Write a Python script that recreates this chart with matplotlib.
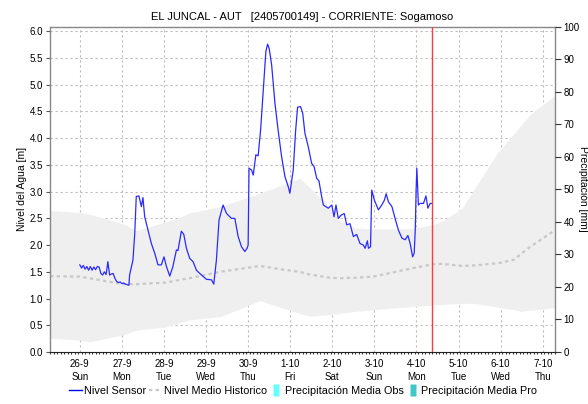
import matplotlib
matplotlib.use("Agg")
import matplotlib.pyplot as plt
import matplotlib.dates as mdates
from matplotlib.lines import Line2D
import numpy as np
import pandas as pd

plt.rcParams['font.family'] = ['Liberation Sans', 'DejaVu Sans']

# ---- data -------------------------------------------------------------
t0 = pd.Timestamp("2021-09-26 00:00")

# water level sensor: hours since 26-9 00:00, level in metres
sensor_hours = [0, 1, 2, 3, 4, 5, 6, 7, 8, 9, 10, 11, 12, 13, 14, 15, 16, 17, 18, 19,
                20, 21, 22, 23, 24, 25, 26, 27, 28, 28.4, 30.3, 31.3, 32.2, 33.7, 35.1,
                36, 37, 38.9, 40.8, 42.7, 44.6, 46.5, 48, 49.4, 51.3, 53.1, 55.1, 56,
                57.9, 59.3, 60.8, 62.7, 64.6, 66.5, 69.4, 72.2, 75.1, 76.4, 77.9, 79.4,
                81.7, 83.7, 86.5, 88.4, 90.3, 92.2, 94.1, 95.4, 96.0, 96.5, 98, 98.9,
                100.4, 101.7, 103.1, 104.6, 106.1, 107.1, 108, 109.4, 111.3, 113.1,
                115.1, 117, 118.9, 119.8, 121.7, 123.1, 124.2, 125.9, 127.1, 128.4,
                130.3, 132.2, 133.6, 135.1, 136.4, 137.9, 138.9, 141.7, 143.7, 145,
                146.1, 147.4, 149, 150.8, 152.2, 154.1, 156, 157.9, 159.8, 161.7,
                162.7, 164, 164.6, 165.8, 166.5, 168, 170.3, 172.2, 173.7, 174.7, 176,
                178, 179.8, 181.7, 183.7, 185.6, 187.1, 188.4, 189.8, 190.7, 191.3,
                191.8, 192.2, 193.1, 194.1, 196, 197.4, 198.5, 199.8, 200.8]
sensor_level = [1.63, 1.57, 1.62, 1.55, 1.60, 1.53, 1.60, 1.53, 1.59, 1.54, 1.60, 1.59,
                1.47, 1.44, 1.50, 1.45, 1.69, 1.44, 1.46, 1.47, 1.38, 1.32, 1.30, 1.31,
                1.28, 1.29, 1.27, 1.26, 1.25, 1.44, 1.72, 2.20, 2.91, 2.92, 2.72, 2.89,
                2.53, 2.28, 2.03, 1.85, 1.63, 1.63, 1.78, 1.60, 1.42, 1.60, 1.91, 1.90,
                2.26, 2.20, 1.94, 1.75, 1.69, 1.53, 1.44, 1.36, 1.35, 1.27, 1.72, 2.47,
                2.75, 2.59, 2.50, 2.50, 2.16, 1.97, 1.88, 1.94, 2.00, 3.44, 3.40, 3.31,
                3.69, 3.67, 4.15, 4.90, 5.62, 5.76, 5.68, 5.37, 4.65, 4.15, 3.65, 3.28,
                3.09, 2.97, 3.40, 4.15, 4.58, 4.59, 4.47, 4.09, 3.84, 3.53, 3.47, 3.25,
                3.20, 2.91, 2.75, 2.69, 2.75, 2.53, 2.75, 2.50, 2.56, 2.59, 2.38, 2.40,
                2.16, 2.20, 2.03, 2.00, 1.94, 2.08, 1.94, 1.97, 3.03, 2.84, 2.66, 2.75,
                2.84, 2.96, 2.81, 2.72, 2.50, 2.28, 2.13, 2.10, 2.18, 2.03, 1.78, 1.85,
                2.28, 3.03, 3.44, 2.75, 2.78, 2.78, 2.92, 2.69, 2.78, 2.78]

# historical statistics: hours since 26-9 00:00
hist_hours = [-17, 0, 5.6, 24.5, 32.4, 49.4, 57, 62.6, 80, 102.8, 114, 125.5, 131,
              142.6, 148, 157, 167.3, 190, 201, 206.2, 218, 225, 238.1, 241.5, 248,
              251, 257, 271]
hist_upper = [2.65, 2.61, 2.58, 2.40, 2.27, 2.44, 2.52, 2.60, 2.72, 2.97, 3.11, 3.25,
              3.08, 2.70, 2.47, 2.32, 2.30, 2.31, 2.38, 2.44, 2.69, 3.05, 3.72, 3.85,
              4.10, 4.22, 4.45, 4.80]
hist_lower = [0.26, 0.22, 0.19, 0.32, 0.41, 0.47, 0.55, 0.60, 0.66, 0.96, 0.84, 0.72,
              0.67, 0.70, 0.72, 0.76, 0.79, 0.85, 0.88, 0.89, 0.91, 0.91, 0.84, 0.82,
              0.79, 0.76, 0.78, 0.83]
hist_mean = [1.42, 1.41, 1.38, 1.27, 1.27, 1.30, 1.35, 1.38, 1.50, 1.61, 1.55, 1.50,
             1.45, 1.39, 1.38, 1.39, 1.41, 1.57, 1.64, 1.65, 1.61, 1.62, 1.66, 1.68,
             1.73, 1.82, 1.97, 2.28]

now_time = t0 + pd.Timedelta(hours=201)
day_labels = ["26-9\nSun", "27-9\nMon", "28-9\nTue", "29-9\nWed", "30-9\nThu",
              "1-10\nFri", "2-10\nSat", "3-10\nSun", "4-10\nMon", "5-10\nTue",
              "6-10\nWed", "7-10\nThu"]

# ---- figure -----------------------------------------------------------
fig = plt.figure(figsize=(5.88, 4.04), dpi=100)
ax = fig.add_axes([50 / 588, 52 / 404, 505 / 588, 325.3 / 404])

s_t = [t0 + pd.Timedelta(hours=h) for h in sensor_hours]
h_t = [t0 + pd.Timedelta(hours=h) for h in hist_hours]

ax.fill_between(h_t, hist_lower, hist_upper, color='#EFEFEF', lw=0, zorder=1)
ax.plot(h_t, hist_mean, color='#C8C8C8', lw=1.6, ls=(0, (1.5, 1.5)), zorder=2)
ax.plot(s_t, sensor_level, color='#2A2AFF', lw=0.9, zorder=4)
ax.axvline(now_time, color='#FF3B3B', lw=1.0, zorder=5)

ax.set_xlim(t0 - pd.Timedelta(hours=17), t0 + pd.Timedelta(hours=271))
ax.set_ylim(0, 6.086)

day_ticks = [t0 + pd.Timedelta(days=i) for i in range(len(day_labels))]
ax.set_xticks(day_ticks)
ax.set_xticklabels(day_labels, fontsize=7, linespacing=1.35)
ax.xaxis.set_minor_locator(mdates.HourLocator(interval=2))
ax.set_yticks(np.arange(0, 6.01, 0.5))
ax.set_yticklabels([f"{v:.1f}" for v in np.arange(0, 6.01, 0.5)], fontsize=7)

ax.grid(True, which='major', color='#BDBDBD', lw=0.8, ls=(0, (2, 2.5)), zorder=0)
ax.set_axisbelow(True)
ax.tick_params(axis='x', which='major', length=0, pad=5)
ax.tick_params(axis='x', which='minor', length=1.5, width=0.8, color='#333333')
ax.tick_params(axis='y', which='major', length=3, width=0.8, color='#555555', pad=2)

for side in ['left', 'top', 'right']:
    ax.spines[side].set_color('#888888')
    ax.spines[side].set_linewidth(1.0)
ax.spines['bottom'].set_color('#222222')
ax.spines['bottom'].set_linewidth(0.8)
ax.spines['bottom'].set_linestyle((0, (1, 1)))

ax.set_ylabel("Nivel del Agua [m]", fontsize=7.5, labelpad=2)

ax2 = ax.twinx()
ax2.set_ylim(0, 100)
ax2.set_yticks(np.arange(0, 101, 10))
ax2.set_yticklabels([str(v) for v in range(0, 101, 10)], fontsize=7)
ax2.tick_params(axis='y', length=4, width=0.8, color='#333333', pad=2)
for side in ['left', 'top', 'right', 'bottom']:
    ax2.spines[side].set_visible(False)

# right-hand axis title sits at the very edge of the canvas
fig.text(582.5 / 588, 1 - 189 / 404, "Precipitación [mm]", fontsize=7.5,
         rotation=270, ha='center', va='center')

ax.set_title("EL JUNCAL - AUT   [2405700149] - CORRIENTE: Sogamoso",
             fontsize=8, pad=5)

# narrow upright rectangle used as the precipitation legend swatch
bar_marker = [(-1, -2), (1, -2), (1, 2), (-1, 2), (-1, -2)]
handles = [
    Line2D([], [], color='#0000EE', lw=1.0),
    Line2D([], [], color='#C8C8C8', lw=1.6, ls=(0, (1.5, 1.5))),
    Line2D([], [], ls='none', marker=bar_marker, markersize=9,
           markerfacecolor='#66FFFF', markeredgecolor='none'),
    Line2D([], [], ls='none', marker=bar_marker, markersize=9,
           markerfacecolor='#40C8C8', markeredgecolor='none'),
]
labels = ["Nivel Sensor", "Nivel Medio Historico", "Precipitación Media Obs",
          "Precipitación Media Pro"]
fig.legend(handles, labels, loc='center', bbox_to_anchor=(303 / 588, 0.032), ncol=4,
           frameon=False, fontsize=7.8, handlelength=1.2, handletextpad=0.2,
           columnspacing=0.25)

fig.savefig("out.png", dpi=100)
